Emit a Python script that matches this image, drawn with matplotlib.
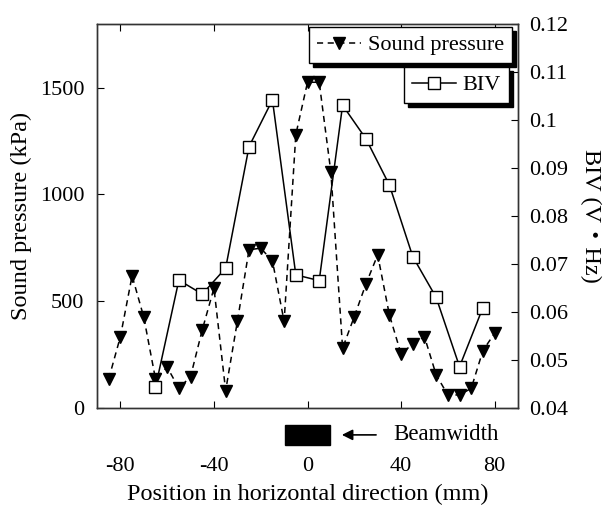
import matplotlib
matplotlib.use("Agg")
import matplotlib.pyplot as plt
from matplotlib.patches import Rectangle
from matplotlib.transforms import blended_transform_factory

plt.rcParams['font.family'] = ['Liberation Serif', 'Noto Sans CJK JP']
plt.rcParams['font.size'] = 16

# Sound pressure (kPa), 5 mm steps from -85 to 80
sp_x = [-85, -80, -75, -70, -65, -60, -55, -50, -45, -40, -35, -30, -25, -20, -15, -10,
        -5, 0, 5, 10, 15, 20, 25, 30, 35, 40, 45, 50, 55, 60, 65, 70, 75, 80]
sp_y = [136, 334, 619, 425, 136, 191, 92, 147, 366, 561, 81, 405, 741, 748, 689, 405,
        1280, 1525, 1525, 1103, 280, 428, 581, 717, 436, 253, 300, 334, 155, 61, 61, 92, 269, 350]

# BIV (V・Hz)
biv_x = [-65, -55, -45, -35, -25, -15, -5, 5, 15, 25, 35, 45, 55, 65, 75]
biv_y = [0.0443, 0.0666, 0.0637, 0.0691, 0.0944, 0.1041, 0.0677, 0.0665, 0.1030, 0.0960,
         0.0864, 0.0715, 0.0630, 0.0486, 0.0609]

x_ticks = [-80, -40, 0, 40, 80]
left_ticks = [0, 500, 1000, 1500]
right_ticks = [0.04, 0.05, 0.06, 0.07, 0.08, 0.09, 0.1, 0.11, 0.12]
right_labels = ['0.04', '0.05', '0.06', '0.07', '0.08', '0.09', '0.1', '0.11', '0.12']
beam = (-9.5, 9.5)

fig = plt.figure(figsize=(6.09, 5.08), dpi=100)
ax = fig.add_axes([0.1593, 0.1969, 0.6913, 0.7568])
ax2 = ax.twinx()

l1, = ax.plot(sp_x, sp_y, color='black', lw=1.1, ls=(0, (4, 3)), marker='v', ms=8.5,
              mfc='black', mec='black', label='Sound pressure', zorder=3)
l2, = ax2.plot(biv_x, biv_y, color='black', lw=1.1, marker='s', ms=9, mfc='white',
               mec='black', mew=1.0, label='BIV', zorder=3)

ax.set_xlim(-90, 90)
ax.set_ylim(0, 1800)
ax2.set_ylim(0.04, 0.12)
ax.set_xticks(x_ticks)
ax.set_xticklabels([str(v) for v in x_ticks])
ax.set_yticks(left_ticks)
ax2.set_yticks(right_ticks)
ax2.set_yticklabels(right_labels)

ax.tick_params(axis='x', direction='in', top=True, length=5, pad=35, labelsize=16)
ax.tick_params(axis='y', direction='in', length=5, pad=9, labelsize=16)
ax2.tick_params(axis='y', direction='in', length=5, pad=8, labelsize=16)

for a in (ax, ax2):
    for s in a.spines.values():
        s.set_linewidth(1.0)
        s.set_color('#333333')

ax.set_xlabel('Position in horizontal direction (mm)', fontsize=17.5, labelpad=6)
ax.set_ylabel('Sound pressure (kPa)', fontsize=17.5, labelpad=6)
ax2.set_ylabel('BIV (V・Hz)', fontsize=17.5, rotation=270, labelpad=24)

# Beamwidth marker
trans = blended_transform_factory(ax.transData, ax.transAxes)
ax.add_patch(Rectangle((beam[0], -0.096), beam[1] - beam[0], 0.052, transform=trans,
                       facecolor='black', edgecolor='black', clip_on=False))
ax.annotate('', xy=(13.5, -0.07), xytext=(30.5, -0.07), xycoords=trans, textcoords=trans,
            arrowprops=dict(arrowstyle='-|>', color='black', lw=1.2, mutation_scale=16),
            annotation_clip=False)
ax.text(36.5, -0.07, 'Beamwidth', transform=trans, ha='left', va='center', fontsize=16.5)

shadow = {'color': 'black', 'alpha': 1.0, 'ox': 3, 'oy': -3}
leg1 = ax2.legend(handles=[l1], loc='upper right', bbox_to_anchor=(0.8407, 0.9469),
                  bbox_transform=fig.transFigure, fancybox=False, shadow=shadow,
                  framealpha=1, edgecolor='black', borderaxespad=0, handlelength=2.0,
                  handletextpad=0.3, borderpad=0.35, fontsize=16)
leg1.get_frame().set_linewidth(1.0)
ax2.add_artist(leg1)
leg2 = ax2.legend(handles=[l2], loc='upper right', bbox_to_anchor=(0.8358, 0.8681),
                  bbox_transform=fig.transFigure, fancybox=False, shadow=shadow,
                  framealpha=1, edgecolor='black', borderaxespad=0, handlelength=2.0,
                  handletextpad=0.3, borderpad=0.35, fontsize=16)
leg2.get_frame().set_linewidth(1.0)

fig.savefig('out.png', dpi=100)
